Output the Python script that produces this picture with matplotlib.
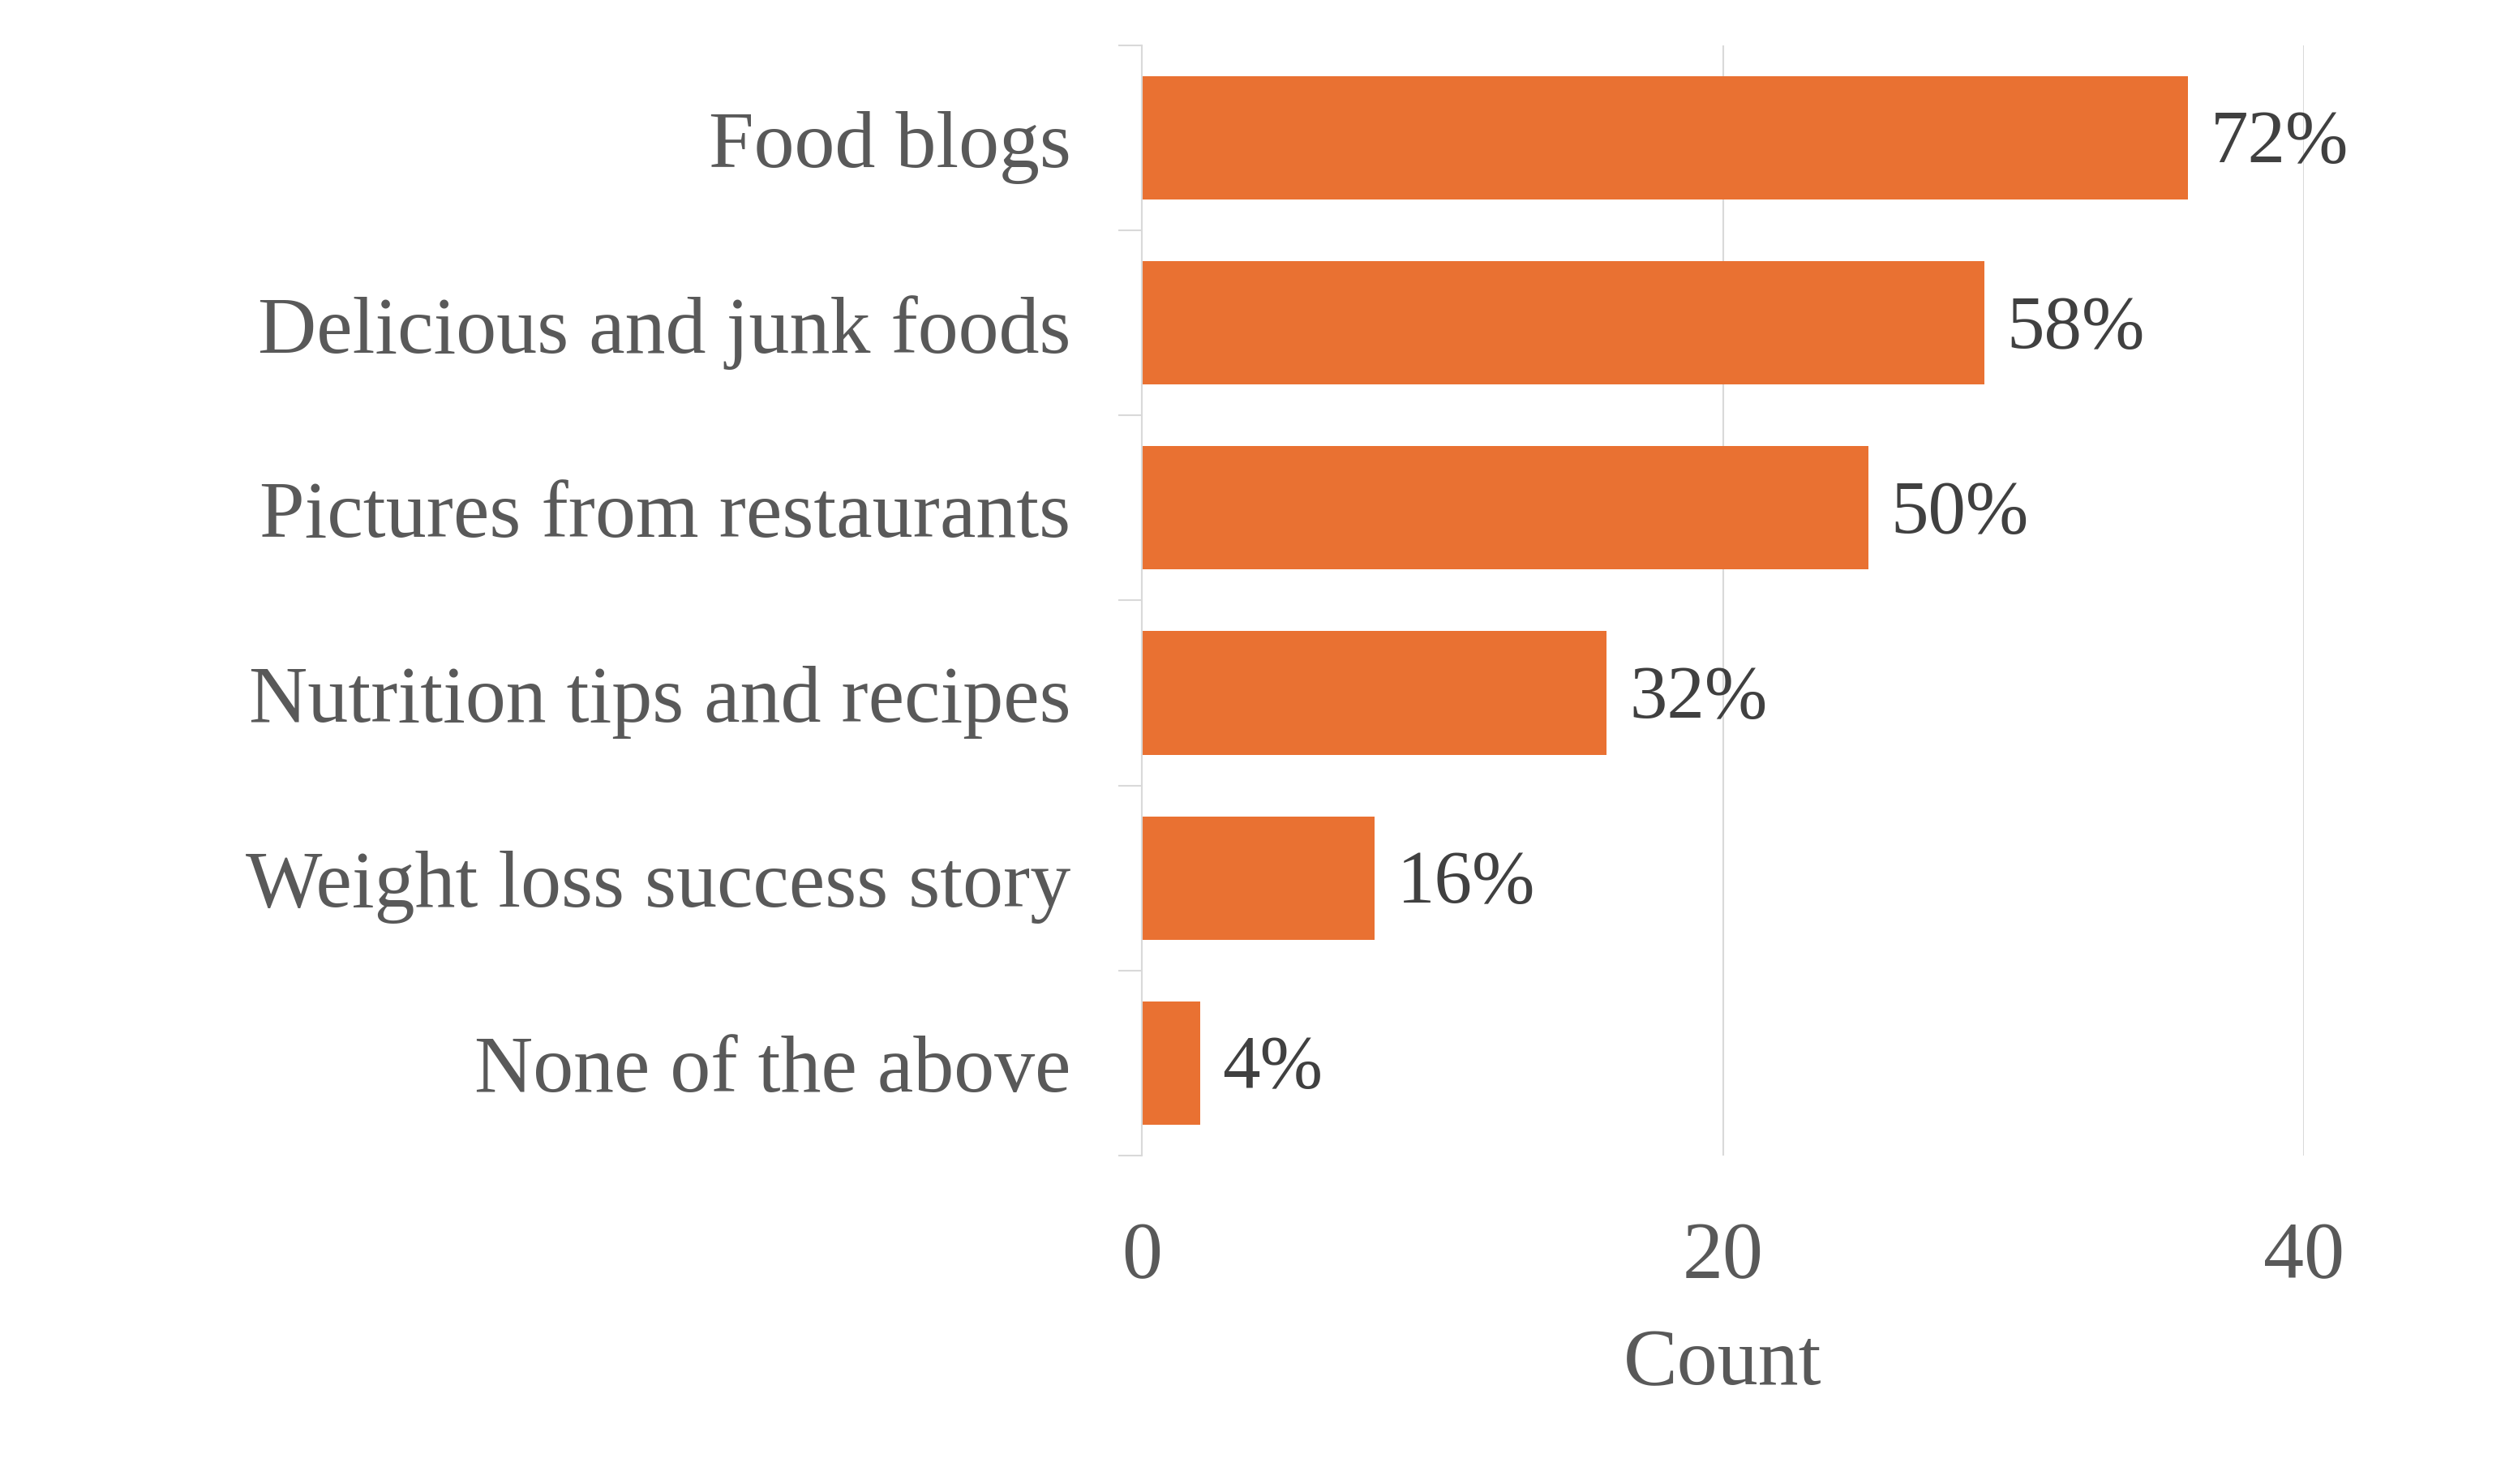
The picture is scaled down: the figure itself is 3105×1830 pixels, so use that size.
import numpy as np
import matplotlib
matplotlib.use("Agg")
import matplotlib.pyplot as plt

categories = ["Food blogs", "Delicious and junk foods", "Pictures from restaurants",
              "Nutrition tips and recipes", "Weight loss success story", "None of the above"]
counts = [36, 29, 25, 16, 8, 2]
pct_labels = ["72%", "58%", "50%", "32%", "16%", "4%"]
x_ticks = [0, 20, 40]

plt.rcParams["font.family"] = ["Liberation Serif", "DejaVu Serif"]

fig = plt.figure(figsize=(31.05, 18.31), dpi=100)
ax = fig.add_axes([0.4535, 0.2212, 0.915 - 0.4535, 0.9689 - 0.2212])

y = np.arange(len(categories))
ax.barh(y, counts, height=0.667, color="#E97132", zorder=3)

for yi, c, lab in zip(y, counts, pct_labels):
    ax.annotate(lab, (c, yi), xytext=(20, -5), textcoords="offset points",
                ha="left", va="center", fontsize=67, color="#404040",
                annotation_clip=False)

ax.set_ylim(len(categories) - 0.5, -0.5)
ax.set_xlim(0, 40)
ax.set_yticks(y)
ax.set_yticklabels(categories, fontsize=72, color="#595959")
ax.set_yticks(np.arange(-0.5, len(categories), 1), minor=True)
ax.tick_params(axis="y", which="major", length=0, pad=63)
ax.tick_params(axis="y", which="minor", length=21, width=1.5, color="#D9D9D9")

ax.set_xticks(x_ticks)
ax.set_xticklabels([str(t) for t in x_ticks], fontsize=72, color="#595959")
ax.tick_params(axis="x", length=0, pad=58)
ax.set_xlabel("Count", fontsize=72, color="#595959", labelpad=30)

ax.grid(axis="x", color="#D9D9D9", linewidth=1.5, zorder=0)
for s in ["top", "right", "bottom"]:
    ax.spines[s].set_visible(False)
ax.spines["left"].set_color("#D9D9D9")
ax.spines["left"].set_linewidth(1.5)
ax.spines["left"].set_zorder(4)

fig.savefig("out.png", dpi=100)
